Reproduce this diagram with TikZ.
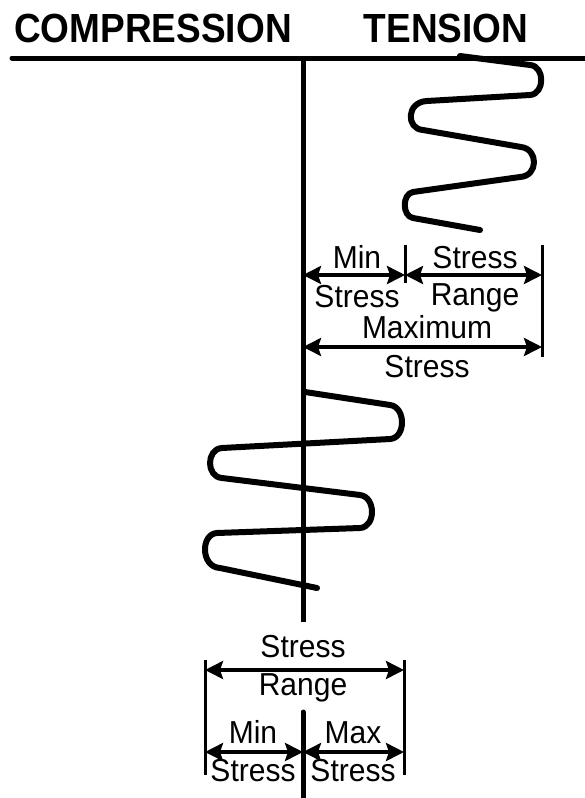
\documentclass[tikz,border=0pt]{standalone}
\usepackage{fontspec}
\setmainfont{Liberation Sans}
\usetikzlibrary{arrows.meta}
\newcommand{\vstr}[2]{\scalebox{1}[#1]{#2}}
\begin{document}
\begin{tikzpicture}[x=1pt,y=-1pt,
  axisline/.style={line width=5pt},
  springline/.style={line width=6pt,line cap=round,line join=round},
  tickline/.style={line width=3pt},
  dimarrow/.style={line width=3.5pt,{Stealth[length=18pt,width=18pt,inset=3pt]}-{Stealth[length=18pt,width=18pt,inset=3pt]}},
  lbl/.style={font=\fontsize{30}{36}\selectfont,anchor=base,inner sep=0pt},
  ttl/.style={font=\fontsize{37}{44}\selectfont\bfseries,anchor=base,inner sep=0pt}]
\useasboundingbox (0,0) rectangle (584,798);
% titles
\node[ttl] (comp) at (153,42) {\vstr{1.1}{COMPRESSION}};
\node[ttl] (tens) at (446,42) {\vstr{1.1}{TENSION}};
% axes
\coordinate (hl) at (12,58);
\coordinate (hr) at (590,58);
\coordinate (vt) at (303,58);
\coordinate (vb) at (303,622);
\coordinate (lt) at (303,712);
\coordinate (lb) at (303,800);
\draw[axisline,line cap=round] (hl) -- (hr);
\draw[axisline] (vt) -- (vb);
\draw[axisline,line cap=round] (lt) -- (lb);
% tension spring
\draw[springline] (460,56) -- (530,65) .. controls (545,66) and (545,94) .. (530,95)
  -- (427,101) .. controls (406,102) and (406,129) .. (423,130)
  -- (521,147) .. controls (538.5,149) and (538.5,176) .. (520,177)
  -- (413,192) .. controls (402,194) and (402,216) .. (413,218)
  -- (480,230);
% compression spring
\draw[springline] (305,392) -- (390,405) .. controls (406,407) and (406,438) .. (390,439)
  -- (222,448) .. controls (206,449) and (206,477) .. (222,478)
  -- (360,495) .. controls (376,497) and (376,527) .. (360,528)
  -- (217,533) .. controls (200.5,534) and (200.5,567) .. (220,568)
  -- (317,588);
% upper dimensions
\coordinate (t1a) at (405,245);
\coordinate (t1b) at (405,283);
\coordinate (t2a) at (542,245);
\coordinate (t2b) at (542,357);
\draw[tickline] (t1a) -- (t1b);
\draw[tickline] (t2a) -- (t2b);
\coordinate (minL) at (303,275);
\coordinate (minR) at (405,275);
\coordinate (rngR) at (542,275);
\coordinate (maxL) at (303,347);
\coordinate (maxR) at (542,347);
\draw[dimarrow] (minL) -- (minR);
\draw[dimarrow] (minR) -- (rngR);
\draw[dimarrow] (maxL) -- (maxR);
\node[lbl] (umin) at (357,268) {\vstr{1.06}{Min}};
\node[lbl] (umins) at (357,307) {\vstr{1.06}{Stress}};
\node[lbl] (urng1) at (475,268) {\vstr{1.06}{Stress}};
\node[lbl] (urng2) at (475,305) {\vstr{1.06}{Range}};
\node[lbl] (umax1) at (427,338) {\vstr{1.06}{Maximum}};
\node[lbl] (umax2) at (427,377) {\vstr{1.06}{Stress}};
% lower dimensions
\coordinate (b1a) at (205,660);
\coordinate (b1b) at (205,775);
\coordinate (b2a) at (404,660);
\coordinate (b2b) at (404,775);
\draw[tickline] (b1a) -- (b1b);
\draw[tickline] (b2a) -- (b2b);
\coordinate (rL) at (205,670);
\coordinate (rR) at (404,670);
\coordinate (mL) at (205,752);
\coordinate (mC) at (303,752);
\coordinate (mR) at (404,752);
\draw[dimarrow] (rL) -- (rR);
\draw[dimarrow] (mL) -- (mC);
\draw[dimarrow] (mC) -- (mR);
\node[lbl] (lrng1) at (303,657) {\vstr{1.06}{Stress}};
\node[lbl] (lrng2) at (303,695) {\vstr{1.06}{Range}};
\node[lbl] (lmin1) at (253,743) {\vstr{1.06}{Min}};
\node[lbl] (lmin2) at (253,781) {\vstr{1.06}{Stress}};
\node[lbl] (lmax1) at (353,743) {\vstr{1.06}{Max}};
\node[lbl] (lmax2) at (353,781) {\vstr{1.06}{Stress}};
\end{tikzpicture}
\end{document}
